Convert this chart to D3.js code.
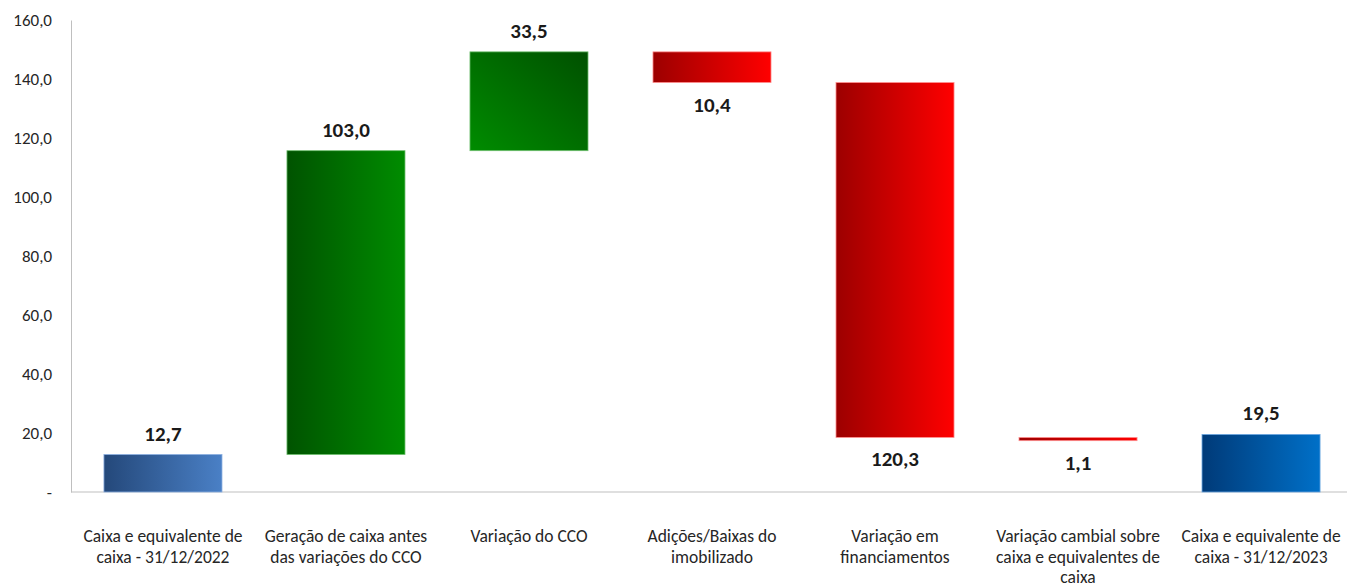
<!DOCTYPE html>
<html>
<head>
<meta charset="utf-8">
<script src="https://cdn.jsdelivr.net/npm/d3@7"></script>
<style>
  body { margin: 0; background: #fff; }
  svg { display: block; font-family: Carlito, Calibri, Lato, "Open Sans", sans-serif; }
</style>
</head>
<body>
<div id="chart"></div>
<script>
// categories (explicit line breaks as in the original)
var categories = [
  "Caixa e equivalente de\ncaixa - 31/12/2022",
  "Geração de caixa antes\ndas variações do CCO",
  "Variação do CCO",
  "Adições/Baixas do\nimobilizado",
  "Variação em\nfinanciamentos",
  "Variação cambial sobre\ncaixa e equivalentes de\ncaixa",
  "Caixa e equivalente de\ncaixa - 31/12/2023"
];
// signed movements; totals flagged
var values = [12.7, 103.0, 33.5, -10.4, -120.3, -1.1, 19.5];
var isTotal = [true, false, false, false, false, false, true];
var yTicks = [0, 20, 40, 60, 80, 100, 120, 140, 160];

var width = 1347, height = 587;
var plotLeft = 71, plotTop = 20, plotBottom = 492;
var fontFam = 'Carlito, Calibri, Lato, "Open Sans", sans-serif';

var svg = d3.select("#chart").append("svg")
  .attr("width", width)
  .attr("height", height);

// gradients
var defs = svg.append("defs");
function grad(id, c1, c2, x1, y1, x2, y2) {
  var g = defs.append("linearGradient").attr("id", id)
    .attr("x1", x1).attr("y1", y1).attr("x2", x2).attr("y2", y2);
  g.append("stop").attr("offset", "0%").attr("stop-color", c1);
  g.append("stop").attr("offset", "100%").attr("stop-color", c2);
}
grad("gStart", "#24487a", "#4a80c6", "0%", "0%", "100%", "0%");
grad("gUp1", "#005300", "#008c00", "0%", "0%", "100%", "0%");
grad("gUp2", "#008c00", "#005000", "0%", "100%", "100%", "0%");
grad("gDown", "#9c0000", "#ff0000", "0%", "0%", "100%", "0%");
grad("gEnd", "#003a78", "#0070c8", "0%", "0%", "100%", "0%");
var fills = ["url(#gStart)", "url(#gUp1)", "url(#gUp2)", "url(#gDown)", "url(#gDown)", "url(#gDown)", "url(#gEnd)"];
var strokes = ["#8aaee0", "#6fbf6f", "#6fbf6f", "#ff9090", "#ff9090", "#ff9090", "#6aa6e0"];

var x = d3.scaleBand()
  .domain(categories)
  .range([plotLeft, 1353])
  .paddingInner(0.355)
  .paddingOuter(0.18);

var y = d3.scaleLinear()
  .domain([0, 160])
  .range([plotBottom, plotTop]);

// build waterfall segments
var running = 0;
var bars = values.map(function(v, i) {
  var b;
  if (isTotal[i]) {
    b = { lo: 0, hi: v };
    running = v;
  } else {
    var start = running;
    running = running + v;
    b = { lo: Math.min(start, running), hi: Math.max(start, running) };
  }
  b.value = v;
  b.cat = categories[i];
  b.i = i;
  return b;
});

// y axis
var yAxis = d3.axisLeft(y)
  .tickValues(yTicks)
  .tickSize(0)
  .tickPadding(19)
  .tickFormat(function(d) { return d === 0 ? "-" : d3.format(".1f")(d).replace(".", ","); });

var ya = svg.append("g")
  .attr("transform", "translate(" + plotLeft + ",0)")
  .call(yAxis)
  .attr("font-family", fontFam);
ya.select(".domain").attr("stroke", "#bfbfbf");
ya.selectAll("text")
  .style("font-size", "17px")
  .attr("fill", "#262626");

// baseline
svg.append("line")
  .attr("x1", plotLeft).attr("x2", width)
  .attr("y1", y(0)).attr("y2", y(0))
  .attr("stroke", "#bfbfbf");

// bars
svg.selectAll(".bar")
  .data(bars)
  .enter()
  .append("rect")
  .attr("class", "bar")
  .attr("x", function(d) { return x(d.cat); })
  .attr("width", x.bandwidth())
  .attr("y", function(d) { return y(d.hi); })
  .attr("height", function(d) { return y(d.lo) - y(d.hi); })
  .attr("fill", function(d) { return fills[d.i]; })
  .attr("stroke", function(d) { return strokes[d.i]; })
  .attr("stroke-width", 0.8);

// value labels
svg.selectAll(".lbl")
  .data(bars)
  .enter()
  .append("text")
  .attr("class", "lbl")
  .attr("x", function(d) { return x(d.cat) + x.bandwidth() / 2; })
  .attr("y", function(d) { return d.value >= 0 ? y(d.hi) - 14 : y(d.lo) + 29; })
  .attr("text-anchor", "middle")
  .style("font-size", "21px")
  .style("font-weight", "bold")
  .attr("fill", "#1a1a1a")
  .text(function(d) { return d3.format(".1f")(Math.abs(d.value)).replace(".", ","); });

// category labels
var xl = svg.selectAll(".xl")
  .data(categories)
  .enter()
  .append("text")
  .attr("class", "xl")
  .attr("text-anchor", "middle")
  .style("font-size", "17.5px")
  .attr("fill", "#262626")
  .attr("transform", function(d) { return "translate(" + (x(d) + x.bandwidth() / 2) + ",542)"; });

xl.selectAll("tspan")
  .data(function(d) { return d.split("\n"); })
  .enter()
  .append("tspan")
  .attr("x", 0)
  .attr("dy", function(d, i) { return i === 0 ? 0 : 20.5; })
  .text(function(d) { return d; });
</script>
</body>
</html>
